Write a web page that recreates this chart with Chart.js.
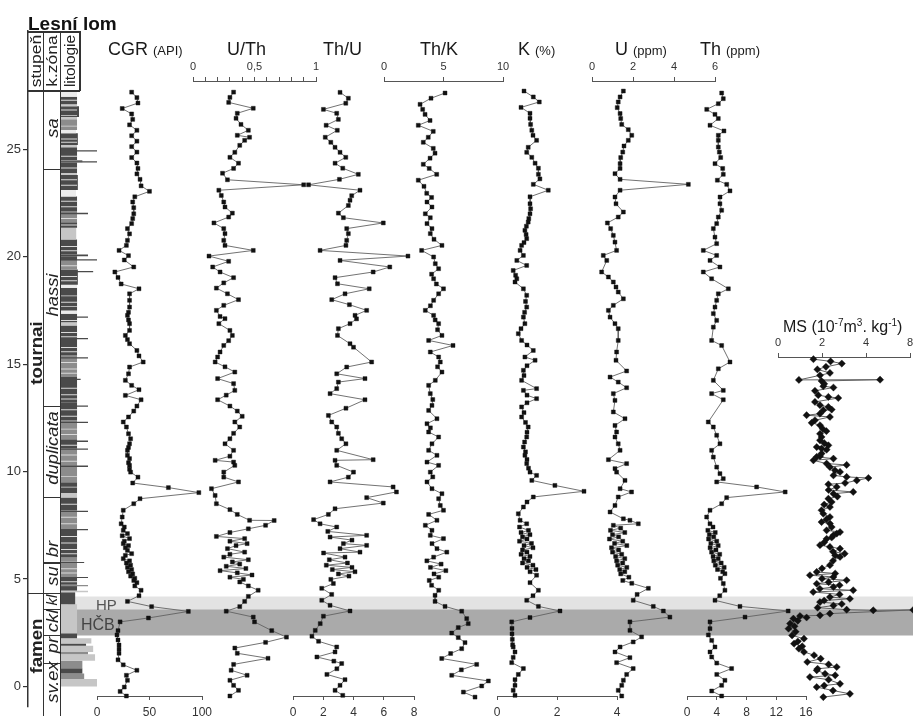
<!DOCTYPE html>
<html><head><meta charset="utf-8">
<script src="https://cdn.jsdelivr.net/npm/chart.js@4/dist/chart.umd.min.js"></script>
<style>
html,body{margin:0;padding:0;background:#fff;}
#wrap{position:relative;width:913px;height:716px;overflow:hidden;font-family:"Liberation Sans",Arial,sans-serif;color:#222;background:#fff;}
canvas{position:absolute;}
.t{position:absolute;white-space:nowrap;line-height:1;}
.rot{position:absolute;white-space:nowrap;line-height:1;}
.ln{position:absolute;background:#333;}
sup{font-size:10px;vertical-align:6px;line-height:0;}
</style></head><body><div id="wrap"></div>
<script>
// ---------------- DATA (depth in m, value) ----------------
const depthTicks = [0,5,10,15,20,25];

const cgr = [[27.7,33],[27.45,38],[27.2,39],[26.95,24],[26.7,33],[26.45,34],[26.2,31],[25.95,38],[25.7,33],[25.45,38],[25.2,33],[24.95,38],[24.7,33],[24.45,38],[24.2,39],[23.95,38],[23.7,41],[23.4,42],[23.15,50],[22.9,36],[22.66,34],[22.4,35],[22.12,35],[21.9,34],[21.67,33],[21.44,29],[21.2,31],[20.9,29],[20.67,28],[20.44,21],[20.2,30],[20.0,26],[19.68,35],[19.45,17],[19.2,20],[18.9,23],[18.68,40],[18.45,31],[18.15,31],[17.84,31],[17.6,30],[17.46,29],[17.25,30],[17.08,31],[16.77,31],[16.54,27],[16.35,29],[16.16,31],[15.85,38],[15.6,40],[15.32,44],[15.09,31],[14.78,30],[14.48,27],[14.25,33],[14.05,40],[13.79,27],[13.59,42],[13.3,38],[13.07,35],[12.8,30],[12.57,25],[12.34,28],[12.03,30],[11.8,32],[11.57,31],[11.4,30],[11.27,29],[11.04,29],[10.89,31],[10.7,30],[10.58,31],[10.4,31],[10.27,32],[10.04,39],[9.77,34],[9.56,68],[9.33,97],[9.05,41],[8.82,35],[8.52,25],[8.21,24],[7.9,23],[7.75,26],[7.6,25],[7.45,29],[7.35,24],[7.22,31],[7.1,26],[6.99,25],[6.9,30],[6.8,27],[6.68,29],[6.53,33],[6.45,27],[6.3,25],[6.2,31],[6.1,28],[6.0,32],[5.9,29],[5.8,33],[5.7,30],[5.6,34],[5.5,32],[5.4,36],[5.3,35],[5.2,38],[5.05,36],[4.85,42],[4.6,40],[4.34,29],[4.1,52],[3.88,87],[3.58,49],[3.4,22],[3.0,20],[2.8,19],[2.57,20],[2.34,21],[2.15,21],[1.96,21],[1.66,20],[1.43,25],[1.18,38],[0.95,28],[0.72,29],[0.41,26],[0.21,22],[0.0,28]];

const uth = [[27.7,0.33],[27.46,0.30],[27.23,0.29],[26.96,0.49],[26.73,0.36],[26.5,0.35],[26.22,0.39],[25.95,0.45],[25.72,0.36],[25.63,0.46],[25.49,0.42],[25.26,0.38],[24.94,0.34],[24.71,0.30],[24.44,0.37],[24.2,0.33],[23.98,0.24],[23.68,0.28],[23.45,0.9],[23.2,0.21],[22.96,0.23],[22.66,0.25],[22.43,0.26],[22.15,0.32],[21.97,0.29],[21.7,0.17],[21.44,0.25],[21.21,0.26],[20.9,0.25],[20.67,0.26],[20.44,0.49],[20.18,0.13],[19.94,0.29],[19.68,0.16],[19.45,0.22],[19.19,0.33],[18.95,0.25],[18.71,0.19],[18.45,0.28],[18.18,0.37],[17.92,0.25],[17.69,0.19],[17.41,0.22],[17.31,0.26],[17.08,0.21],[16.77,0.30],[16.54,0.32],[16.3,0.29],[16.08,0.25],[15.78,0.22],[15.55,0.2],[15.32,0.18],[15.1,0.26],[14.86,0.34],[14.56,0.20],[14.33,0.33],[14.02,0.34],[13.8,0.27],[13.59,0.20],[13.3,0.3],[13.07,0.36],[12.83,0.40],[12.57,0.34],[12.34,0.38],[12.05,0.33],[11.8,0.30],[11.57,0.26],[11.27,0.33],[11.0,0.3],[10.81,0.18],[10.73,0.33],[10.58,0.34],[10.27,0.25],[10.04,0.25],[9.82,0.37],[9.51,0.15],[9.2,0.18],[8.82,0.19],[8.55,0.30],[8.33,0.36],[8.06,0.46],[8.05,0.66],[7.83,0.59],[7.67,0.45],[7.5,0.3],[7.32,0.19],[7.22,0.42],[7.1,0.3],[6.99,0.44],[6.9,0.35],[6.76,0.28],[6.6,0.42],[6.5,0.3],[6.37,0.25],[6.25,0.45],[6.15,0.32],[6.05,0.38],[5.95,0.27],[5.85,0.43],[5.75,0.22],[5.65,0.36],[5.55,0.48],[5.45,0.3],[5.35,0.41],[5.23,0.38],[5.05,0.45],[4.85,0.53],[4.57,0.45],[4.34,0.42],[4.1,0.38],[3.89,0.27],[3.62,0.49],[3.4,0.50],[3.0,0.64],[2.7,0.76],[2.46,0.59],[2.2,0.34],[1.96,0.36],[1.73,0.61],[1.45,0.33],[1.18,0.31],[0.95,0.44],[0.72,0.30],[0.49,0.33],[0.26,0.37],[0.0,0.30]];

const thu = [[27.69,3.11],[27.42,3.66],[27.19,3.49],[26.91,2.01],[26.73,2.89],[26.45,3.0],[26.18,2.19],[25.95,2.93],[25.63,2.13],[25.4,2.5],[25.17,2.78],[24.94,3.11],[24.71,3.49],[24.44,2.78],[24.21,3.29],[23.93,4.32],[23.7,3.07],[23.45,1.03],[23.2,4.43],[22.95,3.88],[22.74,3.77],[22.5,3.66],[22.15,3.0],[21.94,3.33],[21.7,5.97],[21.44,3.55],[21.21,3.66],[20.9,3.55],[20.67,3.5],[20.44,1.79],[20.18,7.6],[19.98,3.11],[19.68,6.4],[19.45,5.3],[19.19,2.78],[18.91,2.94],[18.68,5.04],[18.45,3.44],[18.18,2.56],[17.95,3.73],[17.69,4.87],[17.46,4.1],[17.3,4.2],[17.08,3.77],[16.85,3.0],[16.54,2.94],[16.16,3.77],[16.0,4.0],[15.32,5.2],[15.09,3.55],[14.78,2.89],[14.56,4.76],[14.4,3.0],[14.1,2.89],[13.87,2.45],[13.59,4.76],[13.2,3.5],[12.87,2.34],[12.57,2.56],[12.34,2.89],[12.05,3.0],[11.8,3.22],[11.57,3.5],[11.27,2.89],[10.84,5.3],[10.81,2.78],[10.58,2.89],[10.27,4.0],[10.04,3.66],[9.82,2.45],[9.59,6.62],[9.36,6.84],[9.1,4.87],[8.85,5.97],[8.59,2.78],[8.33,2.34],[8.09,1.36],[7.9,1.79],[7.75,2.89],[7.55,2.3],[7.37,4.87],[7.29,2.45],[7.15,3.9],[6.99,3.33],[6.91,4.87],[6.76,3.11],[6.6,4.43],[6.56,2.02],[6.37,3.44],[6.25,2.4],[6.1,3.6],[6.0,2.2],[5.9,3.9],[5.8,2.6],[5.7,4.1],[5.6,3.0],[5.5,3.7],[5.35,2.5],[5.16,2.67],[4.94,1.9],[4.66,2.56],[4.39,1.9],[4.16,2.45],[3.9,3.77],[3.66,2.01],[3.32,1.8],[3.01,1.47],[2.74,1.25],[2.51,1.69],[2.25,2.89],[2.02,2.78],[1.79,1.58],[1.6,2.7],[1.49,3.22],[1.25,2.9],[0.99,2.24],[0.75,3.44],[0.49,3.11],[0.26,2.78],[0.03,3.29]];

const thk = [[27.66,5.13],[27.42,3.95],[27.14,3.03],[26.91,3.25],[26.68,3.45],[26.4,3.87],[26.18,2.88],[25.9,4.14],[25.63,3.72],[25.4,3.3],[25.12,4.14],[24.9,4.29],[24.67,3.87],[24.39,3.3],[24.2,3.8],[23.93,4.43],[23.66,2.88],[23.38,3.36],[23.06,3.59],[22.87,4.0],[22.66,3.61],[22.43,4.03],[22.12,3.47],[21.94,3.89],[21.67,3.61],[21.44,4.03],[21.21,3.89],[20.95,4.2],[20.67,4.87],[20.44,3.16],[20.14,4.17],[19.83,4.31],[19.6,4.59],[19.35,4.0],[19.14,4.17],[18.9,4.4],[18.68,5.0],[18.45,4.59],[18.15,4.17],[17.9,3.9],[17.69,3.47],[17.46,4.17],[17.25,4.3],[17.08,4.59],[16.8,4.5],[16.54,4.87],[16.31,3.75],[16.08,5.8],[15.78,3.89],[15.55,4.59],[15.32,4.73],[15.1,4.5],[14.86,4.87],[14.48,4.31],[14.25,3.75],[13.87,3.89],[13.6,4.1],[13.33,4.03],[13.1,3.75],[12.72,4.45],[12.49,3.61],[12.3,3.9],[12.11,3.75],[11.88,4.59],[11.57,4.03],[11.27,3.75],[11.04,4.45],[10.73,3.61],[10.58,4.59],[10.27,3.89],[10.05,4.1],[9.82,3.61],[9.51,4.03],[9.28,4.87],[9.05,4.59],[8.74,4.73],[8.52,5.0],[8.33,3.75],[8.06,4.45],[7.83,3.47],[7.6,4.03],[7.37,3.89],[7.22,5.0],[6.99,4.03],[6.76,4.45],[6.6,5.28],[6.37,4.17],[6.2,3.6],[6.05,4.8],[5.9,3.9],[5.75,5.2],[5.6,4.2],[5.45,4.6],[5.3,3.8],[5.08,4.0],[4.85,4.6],[4.62,4.29],[4.34,4.29],[4.11,5.13],[3.89,6.53],[3.55,6.95],[3.32,7.08],[3.14,6.24],[2.89,5.69],[2.68,6.24],[2.45,6.81],[2.17,6.53],[1.95,5.6],[1.72,4.85],[1.45,7.79],[1.2,6.5],[0.95,5.69],[0.69,8.77],[0.46,8.21],[0.18,6.67],[-0.05,7.65]];

const kPct = [[27.75,0.9],[27.48,1.21],[27.25,1.41],[27.0,0.8],[26.73,1.1],[26.5,1.1],[26.22,1.12],[25.95,1.16],[25.72,1.2],[25.49,1.32],[25.17,1.04],[24.94,0.99],[24.71,1.16],[24.44,1.27],[24.21,1.38],[23.93,1.38],[23.72,1.43],[23.47,1.21],[23.2,1.71],[22.9,1.1],[22.58,1.1],[22.35,1.12],[22.12,1.1],[21.9,1.06],[21.74,1.04],[21.55,0.98],[21.36,0.93],[21.17,0.97],[20.98,0.99],[20.8,0.9],[20.67,0.82],[20.44,0.77],[20.21,0.88],[19.98,0.66],[19.75,0.99],[19.52,0.54],[19.3,0.62],[19.14,0.66],[18.99,0.6],[18.68,0.88],[18.38,0.99],[18.1,0.95],[17.84,0.99],[17.6,0.92],[17.38,0.88],[17.08,0.93],[16.85,0.8],[16.62,0.71],[16.31,0.82],[16.1,1.0],[15.85,1.21],[15.55,0.93],[15.4,1.27],[15.15,1.0],[14.94,0.88],[14.7,0.9],[14.48,0.82],[14.1,1.32],[14.02,0.88],[13.8,1.0],[13.64,1.32],[13.45,1.0],[13.26,0.82],[13.0,0.9],[12.8,0.82],[12.55,0.95],[12.34,1.04],[12.1,1.0],[11.88,0.99],[11.65,0.92],[11.42,0.88],[11.2,0.95],[11.04,0.93],[10.85,1.0],[10.66,0.99],[10.45,1.05],[10.27,1.1],[10.12,1.32],[9.89,1.16],[9.66,1.93],[9.39,2.9],[9.13,1.21],[8.9,1.0],[8.67,0.88],[8.36,0.71],[8.06,0.77],[7.9,0.99],[7.75,0.75],[7.6,1.05],[7.5,0.8],[7.4,1.1],[7.3,0.85],[7.2,1.0],[7.1,0.75],[7.0,1.15],[6.9,0.9],[6.8,1.2],[6.7,0.85],[6.6,1.0],[6.5,0.8],[6.4,1.1],[6.3,0.9],[6.2,1.05],[6.1,0.85],[6.0,1.2],[5.9,1.0],[5.8,1.3],[5.7,1.1],[5.54,1.32],[5.2,1.1],[4.85,1.38],[4.6,1.2],[4.39,0.99],[4.11,1.38],[3.9,2.1],[3.6,1.1],[3.4,0.49],[3.1,0.5],[2.85,0.5],[2.6,0.51],[2.35,0.52],[2.25,0.54],[2.02,0.6],[1.77,0.54],[1.53,0.49],[1.26,0.88],[0.99,0.71],[0.75,0.6],[0.49,0.6],[0.26,0.54],[0.03,0.6]];

const uPpm = [[27.75,1.53],[27.48,1.37],[27.25,1.28],[26.99,1.23],[26.72,1.37],[26.49,1.4],[26.22,1.45],[25.98,1.77],[25.72,1.94],[25.49,1.77],[25.23,1.56],[24.95,1.5],[24.7,1.4],[24.42,1.37],[24.2,1.37],[23.96,1.12],[23.7,1.37],[23.47,4.7],[23.2,1.37],[22.89,1.12],[22.58,1.17],[22.2,1.53],[21.97,1.28],[21.7,0.75],[21.44,0.91],[21.13,1.04],[20.82,1.12],[20.44,1.2],[20.21,0.55],[19.98,0.72],[19.45,0.47],[19.22,0.8],[18.99,1.04],[18.76,1.17],[18.53,1.28],[18.22,1.53],[17.92,1.04],[17.69,0.8],[17.38,0.88],[17.08,1.12],[16.85,1.28],[16.31,1.28],[15.78,1.2],[15.4,1.17],[14.91,1.69],[14.63,0.88],[14.4,1.28],[14.14,1.69],[13.87,1.04],[13.56,1.12],[13.03,1.04],[12.72,1.61],[12.41,1.12],[12.11,1.2],[11.88,1.12],[11.57,1.28],[11.27,1.37],[10.84,0.8],[10.66,1.69],[10.43,1.12],[10.27,1.2],[9.89,1.61],[9.51,1.37],[9.36,1.93],[9.13,1.28],[8.74,1.12],[8.44,0.88],[8.13,1.53],[8.06,1.85],[7.9,2.26],[7.83,1.04],[7.7,1.4],[7.6,0.9],[7.5,1.6],[7.4,1.0],[7.3,1.3],[7.2,0.85],[7.1,1.5],[7.0,1.1],[6.9,1.7],[6.8,0.95],[6.7,1.3],[6.6,1.0],[6.5,1.45],[6.4,1.15],[6.3,1.6],[6.2,1.2],[6.1,1.5],[6.0,1.25],[5.9,1.7],[5.8,1.35],[5.7,1.6],[5.6,1.4],[5.45,1.8],[5.3,1.5],[5.17,1.94],[4.94,2.75],[4.66,2.2],[4.39,2.01],[4.11,2.99],[3.9,3.48],[3.62,3.8],[3.4,1.85],[3.01,1.85],[2.71,2.42],[2.48,2.01],[2.25,1.37],[2.02,1.12],[1.76,1.85],[1.53,1.2],[1.26,2.01],[0.99,1.69],[0.72,1.53],[0.49,1.45],[0.26,1.28],[0.0,1.45]];

const thPpm = [[27.66,4.66],[27.4,4.88],[27.17,4.21],[26.91,2.65],[26.68,3.76],[26.49,4.21],[26.18,3.09],[25.92,4.97],[25.72,4.21],[25.49,4.21],[25.18,4.21],[24.95,4.35],[24.7,4.53],[24.42,3.76],[24.2,4.8],[23.93,4.88],[23.66,4.08],[23.47,5.34],[23.17,5.78],[22.89,4.44],[22.58,4.43],[22.28,4.66],[21.97,4.21],[21.67,3.99],[21.44,3.54],[21.05,3.76],[20.75,3.99],[20.44,2.19],[20.21,3.99],[19.98,3.09],[19.68,4.43],[19.45,2.19],[19.14,3.31],[18.68,5.56],[18.45,4.21],[18.15,3.99],[17.84,3.76],[17.54,3.54],[17.23,3.99],[16.92,3.54],[16.31,3.31],[16.08,4.66],[15.32,5.78],[15.01,4.21],[14.48,3.54],[14.02,4.88],[13.87,3.31],[13.59,4.88],[12.57,2.86],[12.34,3.54],[11.96,3.99],[11.57,4.43],[11.27,3.31],[10.96,3.54],[10.5,3.99],[10.2,4.43],[9.97,4.88],[9.82,3.99],[9.59,9.36],[9.36,13.2],[9.1,5.33],[8.82,4.66],[8.52,3.09],[8.21,2.64],[7.9,3.09],[7.75,3.5],[7.6,2.8],[7.5,3.8],[7.4,3.0],[7.3,3.6],[7.2,2.9],[7.1,4.0],[7.0,3.2],[6.9,4.2],[6.8,3.1],[6.7,3.9],[6.6,3.3],[6.5,4.4],[6.4,3.5],[6.3,4.2],[6.2,3.6],[6.1,4.6],[6.0,3.8],[5.9,5.0],[5.8,4.1],[5.7,4.8],[5.61,5.1],[5.4,4.5],[5.16,4.88],[4.85,5.1],[4.6,4.4],[4.39,3.76],[4.11,7.12],[3.9,13.6],[3.62,7.8],[3.4,3.09],[3.09,3.09],[2.8,2.87],[2.55,3.32],[2.25,3.76],[2.02,3.09],[1.79,3.32],[1.51,4.0],[1.26,6.0],[0.99,4.0],[0.72,5.1],[0.49,4.66],[0.23,3.32],[0.0,4.66]];

const ms = [[15.45,1.61],[15.35,2.39],[15.25,2.9],[15.1,2.18],[14.98,1.79],[14.82,2.36],[14.71,1.91],[14.5,0.95],[14.51,4.64],[14.45,1.98],[14.32,2.1],[14.21,2.06],[14.15,2.52],[14.0,1.68],[13.8,1.83],[13.72,2.29],[13.67,2.74],[13.49,1.68],[13.34,1.91],[13.26,2.29],[13.14,2.44],[13.11,2.06],[12.95,1.91],[12.88,1.3],[12.8,2.36],[12.65,1.68],[12.53,1.53],[12.42,1.91],[12.26,2.03],[12.15,2.2],[12.03,1.91],[11.88,1.98],[11.73,1.91],[11.6,2.1],[11.5,2.29],[11.42,1.76],[11.35,1.98],[11.3,2.21],[11.12,1.98],[11.0,1.91],[10.97,1.76],[10.89,2.52],[10.81,1.61],[10.66,2.21],[10.6,3.12],[10.5,2.36],[10.35,2.59],[10.28,2.82],[10.12,2.52],[10.05,3.12],[10.0,4.11],[9.89,3.58],[9.77,3.05],[9.71,2.29],[9.59,2.67],[9.45,2.3],[9.36,3.42],[9.28,2.52],[9.15,2.7],[9.05,2.29],[8.9,2.44],[8.78,2.1],[8.67,2.36],[8.52,1.98],[8.36,2.06],[8.21,2.36],[8.1,2.2],[7.98,1.98],[7.91,2.36],[7.75,2.44],[7.6,2.21],[7.52,2.82],[7.45,2.67],[7.37,2.52],[7.27,2.44],[7.21,2.21],[7.05,2.1],[6.92,1.91],[6.84,2.36],[6.76,2.82],[6.62,2.5],[6.53,3.03],[6.45,2.6],[6.38,2.82],[6.2,2.5],[6.0,2.36],[5.85,2.0],[5.69,1.76],[5.62,2.6],[5.54,1.45],[5.46,2.52],[5.38,2.0],[5.31,3.12],[5.22,2.3],[5.15,1.76],[5.08,2.8],[5.0,2.52],[4.92,1.9],[4.85,3.42],[4.77,1.6],[4.66,2.8],[4.54,2.36],[4.46,3.27],[4.38,2.1],[4.31,1.91],[4.22,2.9],[4.15,2.52],[4.05,1.8],[3.96,3.12],[3.93,4.33],[3.95,6.15],[3.78,2.36],[3.7,1.91],[3.67,1.0],[3.6,1.3],[3.55,0.7],[3.45,0.9],[3.32,0.55],[3.2,0.75],[3.09,0.48],[2.95,0.8],[2.78,0.64],[2.63,1.18],[2.5,0.9],[2.4,0.73],[2.28,1.1],[2.17,0.95],[2.02,1.18],[1.87,1.64],[1.71,1.94],[1.56,1.33],[1.45,2.3],[1.33,2.67],[1.25,1.8],[1.18,1.76],[1.02,2.14],[0.95,2.6],[0.87,1.45],[0.75,2.3],[0.56,2.82],[0.48,2.1],[0.41,1.76],[0.25,2.5],[0.1,3.27],[-0.05,2.06]];

const bandNames = ['HP','HČB'];
const bandTop = [4.19, 3.6];
const bandBase = [3.6, 2.37];

const zoneNames = ['sa','hassi','duplicata','br','su','kl','ckl','pr','sv.ex'];
const zoneBounds = [24.1,13.05,8.84,5.77,4.34,3.6,2.4,1.1];
const zoneMid = [26.0,18.2,11.1,6.42,5.12,4.02,3.05,1.95,0.2];
const stageNames = ['tournai','famen'];
const stageBound = 4.34;
const stageMid = [15.5,1.88];

// lithology layers: top, base (m), relative extent (0..1), tone (0 light .. 3 dark)
const lithoTop  = [27.75,27.45,27.1,27.0,26.5,26.4,25.9,25.75,25.2,25.1,24.96,24.5,24.44,24.38,23.9,23.8,23.1,22.8,22.05,22.1,21.6,21.35,20.8,20.1,20.02,19.88,19.83,19.34,19.4,18.7,18.55,17.5,17.22,17.35,16.95,16.8,16.22,15.32,15.4,14.32,14.4,13.08,13.2,12.32,12.4,11.45,11.5,11.08,11.1,10.28,10.3,9.5,9.0,8.8,8.18,8.2,7.33,7.3,6.0,5.79,5.8,5.1,5.05,4.72,4.75,4.45,4.38,3.83,2.48,2.25,2.0,1.9,1.6,1.5,1.2,0.85,0.6,0.35];
const lithoBase = [27.45,27.1,27.0,26.5,26.4,25.9,25.75,25.2,25.1,24.5,24.9,24.4,24.38,23.9,23.8,23.1,22.8,22.1,21.98,21.6,21.35,20.8,20.1,20.02,19.83,19.82,19.4,19.28,18.7,18.55,17.5,17.35,17.16,16.95,16.8,15.4,16.16,15.26,14.4,14.26,13.2,13.02,12.4,12.26,11.5,11.38,11.1,11.02,10.3,10.22,9.5,9.0,8.8,8.2,8.12,7.3,7.27,6.0,5.8,5.75,5.1,5.05,4.75,4.66,4.45,4.38,3.83,2.48,2.25,2.0,1.9,1.6,1.5,1.2,0.85,0.6,0.35,0.0];
const lithoExt  = [0.45,0.45,0.45,0.5,0.45,0.45,0.42,0.47,0.45,0.45,1.0,0.6,1.0,0.45,0.45,0.47,0.42,0.45,0.75,0.45,0.45,0.43,0.45,0.75,0.45,1.0,0.45,0.9,0.47,0.45,0.45,0.45,0.75,0.45,0.45,0.45,0.75,0.75,0.45,0.55,0.45,0.75,0.45,0.75,0.45,0.75,0.45,0.75,0.45,0.75,0.45,0.45,0.45,0.45,0.75,0.45,0.75,0.45,0.45,0.65,0.45,0.75,0.45,0.75,0.45,0.75,0.4,0.45,0.45,0.85,0.7,0.9,0.75,0.95,0.6,0.6,0.65,1.0];
const lithoTone = [0,3,1,3,1,2,0,3,1,3,3,2,3,3,1,3,0,3,3,2,3,1,3,3,3,3,2,3,3,0,3,0,3,3,1,3,3,3,2,3,3,3,3,3,2,3,3,3,2,3,2,3,1,3,3,2,3,3,2,3,2,3,3,2,3,1,3,1,3,1,3,1,2,1,2,3,2,1];
// thin pale partings inside the tournai limestone succession (m)
const lithoParting = [27.3,26.85,26.6,26.1,25.5,25.35,24.7,24.15,23.6,23.35,22.6,22.35,21.8,21.5,20.5,20.3,19.6,19.1,18.9,18.2,17.9,17.7,17.05,16.5,16.3,15.8,15.6,15.1,14.8,14.6,13.9,13.6,13.4,12.9,12.6,12.0,11.75,11.25,10.8,10.5,9.8,9.3,8.5,7.9,7.6,7.0,6.7,6.4,6.2,5.5,5.3,4.9];

// ---------------- LAYOUT ----------------
const Y0 = 696, PXM = 21.8;          // page y of depth 0, pixels per metre
const FONT = '"Liberation Sans", Arial, sans-serif';
const wrap = document.getElementById('wrap');
const tones = ['#ebebeb','#c6c6c6','#8c8c8c','#4a4a4a'];
const base = {responsive:false, animation:false, events:[], devicePixelRatio:1,
  plugins:{legend:{display:false}, tooltip:{enabled:false}}};

function addCanvas(left, top, w, h){
  const c = document.createElement('canvas');
  c.width = w; c.height = h;
  Object.assign(c.style,{left:left+'px',top:top+'px',width:w+'px',height:h+'px'});
  wrap.appendChild(c); return c;
}

// background: depth axis, bands, lithology
const bgCanvas = addCanvas(0,0,913,716);
const bgSets = [];
bandTop.forEach((t,i)=>{
  const x0 = i===0 ? 68 : 77;
  bgSets.push({data:[{x:x0,y:t},{x:913,y:t}], fill:{value:bandBase[i]},
    backgroundColor: i===0 ? '#e3e3e3' : '#aaaaaa', borderColor:'rgba(0,0,0,0)', borderWidth:0,
    pointRadius:0, order:3});
});
lithoTop.forEach((t,i)=>{
  const thin = (t - lithoBase[i]) < 0.1;
  bgSets.push({data:[{x:61,y:t},{x:61+lithoExt[i]*36,y:t}], fill:{value:lithoBase[i]},
    backgroundColor: tones[lithoTone[i]], borderColor:'rgba(0,0,0,0)', borderWidth:0,
    pointRadius:0, order: thin ? 1 : 2});
});
lithoParting.forEach(d=>{
  bgSets.push({data:[{x:61,y:d},{x:61+0.45*36,y:d}], fill:{value:d-0.045},
    backgroundColor:'#d9d9d9', borderColor:'rgba(0,0,0,0)', borderWidth:0,
    pointRadius:0, order:0});
});
const bg = new Chart(bgCanvas, {type:'line', data:{datasets:bgSets},
  options:Object.assign({}, base, {
    layout:{padding:{top:31,bottom:0,left:0,right:0}},
    scales:{
      x:{type:'linear', display:false, min:28, max:913},
      y:{type:'linear', position:'left', min:(Y0-716)/PXM, max:(Y0-31)/PXM,
        afterFit:s=>{s.width=28;},
        afterBuildTicks:s=>{s.ticks = depthTicks.map(v=>({value:v}));},
        ticks:{font:{size:13,family:FONT}, color:'#333', padding:2},
        grid:{drawOnChartArea:false, tickLength:5, color:'#333', lineWidth:1.2},
        border:{display:true, color:'#333', width:1.5}}
    }})});

// data panels
function panel(p){
  const PADX = 18, top = p.pos==='top';
  const AXH = top ? 24 : 22;
  const chartTop = top ? p.axisY : 84;
  const chartBot = top ? Y0 + 4 : p.axisY;
  const padT = top ? 2 : 6, padB = top ? 8 : 2;
  const left = p.x0 - PADX, w = (p.x1 - p.x0) + 2*PADX;
  const ctop = top ? chartTop - AXH - padT : chartTop - padT;
  const h = padT + padB + AXH + (chartBot - chartTop);
  const c = addCanvas(left, ctop, w, h);
  return new Chart(c, {type:'scatter',
    data:{datasets:[{data:p.data.map(([d,v])=>({x:v,y:d})), showLine:true,
      borderColor:'#626262', borderWidth:p.lw||0.9, tension:0,
      pointStyle:p.ps||'rect', pointRadius:p.r||2.8,
      pointBackgroundColor:'#111', pointBorderColor:'#111', pointBorderWidth:0.4, clip:false}]},
    options:Object.assign({}, base, {
      layout:{padding:{left:PADX,right:PADX,top:padT,bottom:padB}},
      scales:{
        x:{type:'linear', position:p.pos, min:p.min, max:p.max,
          afterFit:s=>{s.height=AXH;},
          ticks:{stepSize:p.step, autoSkip:false, maxRotation:0, padding: top?3:5,
            font:{size:p.fs||11, family:FONT}, color:'#333',
            callback:p.fmt || (v=>String(v))},
          grid:{drawOnChartArea:false, drawTicks:true, tickLength:4, color:'#555'},
          border:{display:true, color:'#555', width:1}},
        y:{type:'linear', display:false, min:(Y0-chartBot)/PXM, max:(Y0-chartTop)/PXM}
      }})});
}

panel({data:cgr, x0:97, x1:202, min:0, max:100, step:50, pos:'bottom', axisY:696, fs:12});
panel({data:uth, x0:193, x1:316, min:0, max:1, step:0.1, pos:'top', axisY:81,
  fmt:v=>{const r=Math.round(v*10)/10; return r===0?'0':r===0.5?'0,5':r===1?'1':'';}});
panel({data:thu, x0:293, x1:414, min:0, max:8, step:2, pos:'bottom', axisY:696, fs:12});
panel({data:thk, x0:384, x1:503, min:0, max:10, step:5, pos:'top', axisY:81});
panel({data:kPct, x0:497, x1:617, min:0, max:4, step:2, pos:'bottom', axisY:696, fs:12});
panel({data:uPpm, x0:592, x1:715, min:0, max:6, step:2, pos:'top', axisY:81});
panel({data:thPpm, x0:687, x1:806, min:0, max:16, step:4, pos:'bottom', axisY:696, fs:12});
panel({data:ms, x0:778, x1:910, min:0, max:6, step:2, pos:'top', axisY:357, ps:'rectRot', r:3.6, lw:1,
  fmt:v=>({0:'0',2:'2',4:'4',6:'8'})[Math.round(v)]});

// ---------------- TEXT & FRAME OVERLAYS ----------------
const Y = d => bg.scales.y.getPixelForValue(d);
function line(x,y,w,h){const e=document.createElement('div');e.className='ln';
  Object.assign(e.style,{left:x+'px',top:y+'px',width:w+'px',height:h+'px'});wrap.appendChild(e);}
function txt(html,x,y,css){const e=document.createElement('div');e.className='t';e.innerHTML=html;
  e.style.left=x+'px';e.style.top=y+'px';if(css)e.style.cssText+=css;wrap.appendChild(e);return e;}
function rot(html,cx,cy,css,sx){const e=document.createElement('div');e.className='rot';e.innerHTML=html;
  e.style.left=cx+'px';e.style.top=cy+'px';if(css)e.style.cssText+=css;
  e.style.transform='translate(-50%,-50%) rotate(-90deg) scaleX('+(sx||1)+')';wrap.appendChild(e);return e;}

// header box and column frame
line(28,31,52,1.5); line(28,90,52,1.5); line(79,31,1.5,60);
line(43,31,1.2,685); line(60,31,1.2,685);
zoneBounds.forEach(d=>line(43,Y(d),17,1.2));
line(28,Y(stageBound),33,1.2);

rot('stupeň',35.5,61,'font-size:14px;',1.25);
rot('k.zóna',52,61,'font-size:14px;',1.25);
rot('litologie',70,61,'font-size:14px;',1.1);

zoneNames.forEach((n,i)=>rot(n,52,Y(zoneMid[i]),'font-size:'+(n==='kl'?14:17)+'px;font-style:italic;',1.08));
stageNames.forEach((n,i)=>rot(n,35.5,Y(stageMid[i]),'font-size:17px;font-weight:bold;',1.1));

txt('Lesní lom',28,14,'font-size:19px;font-weight:bold;color:#111;');
const big='font-size:18px;color:#1a1a1a;', sm='<span style="font-size:13px">';
txt('CGR '+sm+'(API)</span>',108,40,big);
txt('U/Th',227,40,big);
txt('Th/U',323,40,big);
txt('Th/K',420,40,big);
txt('K '+sm+'(%)</span>',518,40,big);
txt('U '+sm+'(ppm)</span>',615,40,big);
txt('Th '+sm+'(ppm)</span>',700,40,big);
txt('MS (10<sup>-7</sup>m<sup>3</sup>. kg<sup>-1</sup>)',783,319,'font-size:16px;color:#1a1a1a;');

txt(bandNames[0],96,Y(bandTop[0])+1,'font-size:15px;color:#555;');
txt(bandNames[1],81,Y(bandTop[1])+8,'font-size:16px;color:#444;');
</script></body></html>
